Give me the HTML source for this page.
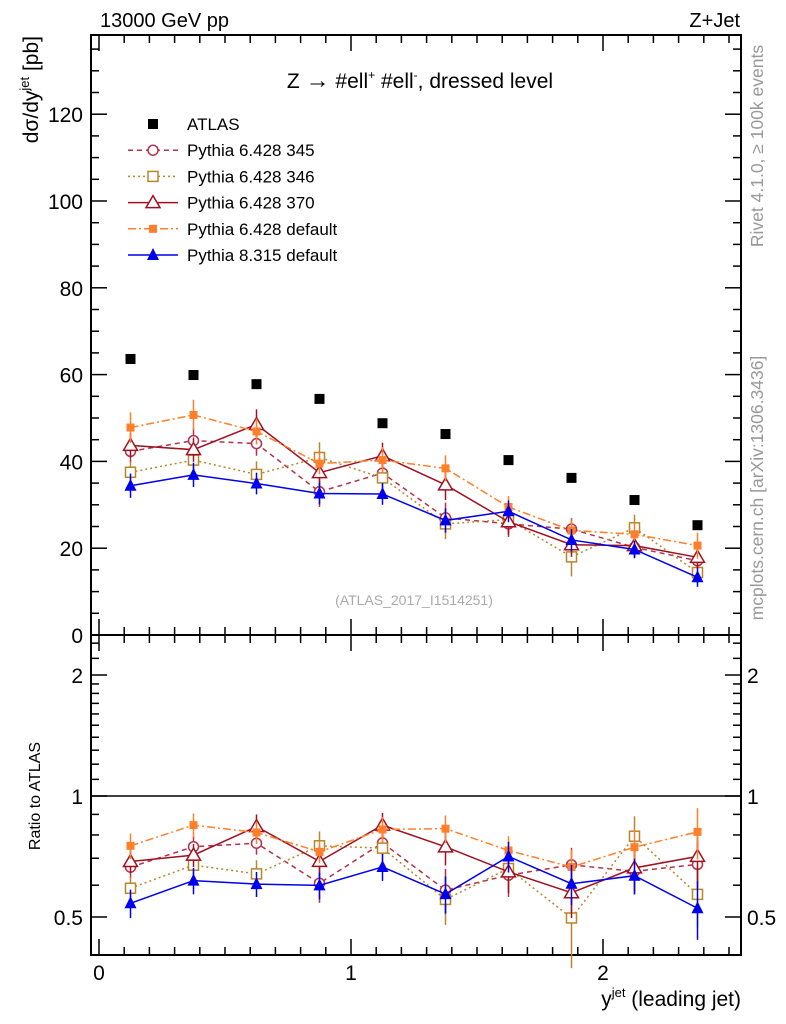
<!DOCTYPE html>
<html><head><meta charset="utf-8"><style>
html,body{margin:0;padding:0;background:#fff;}
svg{display:block;font-family:"Liberation Sans",sans-serif;}
</style></head><body>
<svg id="c" width="786" height="1024" viewBox="0 0 786 1024">
<text x="100" y="27" font-size="20">13000 GeV pp</text>
<text x="740" y="27" font-size="20" text-anchor="end">Z+Jet</text>
<text x="420" y="88" font-size="21" text-anchor="middle">Z <tspan font-size="24">→</tspan> #ell<tspan font-size="12" dy="-9">+</tspan><tspan dy="9"> #ell</tspan><tspan font-size="12" dy="-9">-</tspan><tspan dy="9">, dressed level</tspan></text>
<text transform="translate(38,36) rotate(-90)" font-size="21" text-anchor="end">dσ/dy<tspan font-size="13" dy="-9">jet</tspan><tspan dy="9"> [pb]</tspan></text>
<text transform="translate(40,796) rotate(-90)" font-size="16" text-anchor="middle">Ratio to ATLAS</text>
<text x="741" y="1006" font-size="21" text-anchor="end">y<tspan font-size="13" dy="-9">jet</tspan><tspan dy="9"> (leading jet)</tspan></text>
<text transform="translate(763,146) rotate(-90)" font-size="17.5" fill="#999" text-anchor="middle">Rivet 4.1.0, ≥ 100k events</text>
<text transform="translate(763,488) rotate(-90)" font-size="17.5" fill="#999" text-anchor="middle">mcplots.cern.ch [arXiv:1306.3436]</text>
<text x="414" y="605" font-size="14" fill="#aaa" text-anchor="middle">(ATLAS_2017_I1514251)</text>
<g id="g"></g>
</svg>
<script>
const xCenters=[0.125,0.375,0.625,0.875,1.125,1.375,1.625,1.875,2.125,2.375];
const atlas=[63.6,59.9,57.8,54.4,48.8,46.3,40.3,36.2,31.1,25.3];
const p345=[42.3,44.8,44.1,33.0,37.3,27.0,25.6,24.4,20.2,17.1];
const p346=[37.5,40.3,37.0,40.9,36.2,25.6,26.6,18.0,24.7,14.4];
const p370=[43.7,42.7,48.5,37.4,41.3,34.6,26.1,20.8,20.6,17.9];
const pdef=[47.8,50.7,46.9,39.5,40.3,38.4,29.5,24.1,23.2,20.6];
const p8=[34.4,36.9,34.9,32.6,32.5,26.4,28.5,21.9,19.7,13.3];
const e345=[2.5,2.8,2.8,3.5,2.5,3.5,3.0,2.5,2.5,2.5];
const e346=[2.5,2.8,3.0,3.5,2.8,3.5,3.0,4.5,3.0,2.5];
const e370=[2.8,2.8,3.5,3.5,3.0,3.5,3.0,2.8,2.5,2.5];
const edef=[3.5,3.5,3.0,2.5,3.0,3.0,2.5,2.5,2.5,3.0];
const e8=[2.8,2.8,2.5,2.5,2.5,2.8,2.5,2.5,2.0,2.2];
const yTicks=[0,20,40,60,80,100,120];
const rTicks=[0.5,1,2];
const xTicks=[0,1,2];

const L=91,R=741,T=35,MB=635,RB=955;
const X=v=>99+(v)*252;
const Y=v=>635-v*4.34;
const RY=v=>796-Math.log10(v)/0.30103*121;
const NS="http://www.w3.org/2000/svg";
const g=document.getElementById('g');
function mk(t,a,p){const e=document.createElementNS(NS,t);for(const k in a)e.setAttribute(k,a[k]);(p||g).appendChild(e);return e;}

let f=mk('rect',{x:L,y:T,width:R-L,height:MB-T,fill:'none',stroke:'#000','stroke-width':2});


f=mk('rect',{x:L,y:MB,width:R-L,height:RB-MB,fill:'none',stroke:'#000','stroke-width':2});


let ln=mk('line',{x1:L,x2:R,y1:RY(1),y2:RY(1),stroke:'#000','stroke-width':1.5});



for(let i=0;i<=25;i++){const v=i/10,x=X(v);const maj=(i%10===0);const len=maj?16:8;
 for(const [top,bot] of [[T,MB],[MB,RB]]){
  mk('line',{x1:x,x2:x,y1:bot,y2:bot-len,stroke:'#000','stroke-width':1.5});
  mk('line',{x1:x,x2:x,y1:top,y2:top+len,stroke:'#000','stroke-width':1.5});
 }}
xTicks.forEach(v=>{const t=mk('text',{x:X(v),y:980,'font-size':21,'text-anchor':'middle'});t.textContent=v;
 
 });
for(let v=0;v<=135;v+=5){const y=Y(v);const len=v%20===0?16:8;
 mk('line',{x1:L,x2:L+len,y1:y,y2:y,stroke:'#000','stroke-width':1.5});
 mk('line',{x1:R,x2:R-len,y1:y,y2:y,stroke:'#000','stroke-width':1.5});}
yTicks.forEach(v=>{const t=mk('text',{x:83,y:Y(v)+8,'font-size':21,'text-anchor':'end'});t.textContent=v;
 
 });
const rMinor=[0.5,0.6,0.7,0.8,0.9,1,1.1,1.2,1.3,1.4,1.5,1.6,1.7,1.8,1.9,2,2.2,2.4];
rMinor.forEach(v=>{const y=RY(v);const len=rTicks.includes(v)?16:8;
 mk('line',{x1:L,x2:L+len,y1:y,y2:y,stroke:'#000','stroke-width':1.5});
 mk('line',{x1:R,x2:R-len,y1:y,y2:y,stroke:'#000','stroke-width':1.5});});
rTicks.forEach(v=>{let t=mk('text',{x:83,y:RY(v)+8,'font-size':21,'text-anchor':'end'});t.textContent=v;
 
 
 t=mk('text',{x:747,y:RY(v)+8,'font-size':21});t.textContent=v;
 
 });

function marker(type,x,y,col,parent){
 const s=5;let m;
 if(type==='sqf')m=mk('rect',{x:x-s,y:y-s,width:2*s,height:2*s,fill:col},parent);
 else if(type==='sqo')m=mk('rect',{x:x-s,y:y-s,width:2*s,height:2*s,fill:'#fff',stroke:col,'stroke-width':1.5},parent);
 else if(type==='ci')m=mk('circle',{cx:x,cy:y,r:s,fill:'#fff',stroke:col,'stroke-width':1.5},parent);
 else if(type==='tro')m=mk('polygon',{points:`${x},${y-7} ${x-7},${y+5} ${x+7},${y+5}`,fill:'#fff',stroke:col,'stroke-width':1.5},parent);
 else if(type==='trf')m=mk('polygon',{points:`${x},${y-7} ${x-6},${y+5} ${x+6},${y+5}`,fill:col},parent);
 else if(type==='sqs')m=mk('rect',{x:x-4,y:y-4,width:8,height:8,fill:col},parent);
 return m;}

const series=[
 {name:'pythia6-345',vals:p345,err:e345,col:'#b5304a',dash:'5,4',m:'ci',label:'Pythia 6.428 345'},
 {name:'pythia6-346',vals:p346,err:e346,col:'#b8862b',dash:'2,3',m:'sqo',label:'Pythia 6.428 346'},
 {name:'pythia6-370',vals:p370,err:e370,col:'#a01020',dash:'',m:'tro',label:'Pythia 6.428 370'},
 {name:'pythia6-default',vals:pdef,err:edef,col:'#ff7f2a',dash:'8,3,2,3',m:'sqs',label:'Pythia 6.428 default'},
 {name:'pythia8-default',vals:p8,err:e8,col:'#0000ee',dash:'',m:'trf',label:'Pythia 8.315 default'}];

series.forEach(s=>{
 const grp=mk('g',{});
 
 
 const rgrp=mk('g',{});
 
 
 const pts=s.vals.map((v,i)=>X(xCenters[i])+','+Y(v)).join(' ');
 mk('polyline',{points:pts,fill:'none',stroke:s.col,'stroke-width':1.5,'stroke-dasharray':s.dash},grp);
 const rpts=s.vals.map((v,i)=>X(xCenters[i])+','+RY(v/atlas[i])).join(' ');
 mk('polyline',{points:rpts,fill:'none',stroke:s.col,'stroke-width':1.5,'stroke-dasharray':s.dash},rgrp);
 s.vals.forEach((v,i)=>{const x=X(xCenters[i]);
  mk('line',{x1:x,x2:x,y1:Y(v-s.err[i]),y2:Y(v+s.err[i]),stroke:s.col,'stroke-width':1.5},grp);
  const r=v/atlas[i],re=s.err[i]/atlas[i];
  mk('line',{x1:x,x2:x,y1:RY(r-re),y2:RY(r+re),stroke:s.col,'stroke-width':1.5},rgrp);
  const p=marker(s.m,x,Y(v),s.col,grp);
  
  
  const q=marker(s.m,x,RY(r),s.col,rgrp);
  
  
 });
});
const ag=mk('g',{});


atlas.forEach((v,i)=>{const p=marker('sqf',X(xCenters[i]),Y(v),'#000',ag);
 
 });

const lg=mk('g',{});


const rows=[{m:'sqf',col:'#000',dash:null,label:'ATLAS',name:'atlas'}].concat(series);
rows.forEach((s,k)=>{const y=124+k*26.2;
 const e=mk('g',{},lg);
 
 
 if(s.dash!==null&&s.dash!==undefined) mk('line',{x1:128,x2:178,y1:y,y2:y,stroke:s.col,'stroke-width':1.5,'stroke-dasharray':s.dash},e);
 marker(s.m,153,y,s.col,e);
 const t=mk('text',{x:187,y:y+6,'font-size':17},e);t.textContent=s.label;});
</script>
</body></html>
